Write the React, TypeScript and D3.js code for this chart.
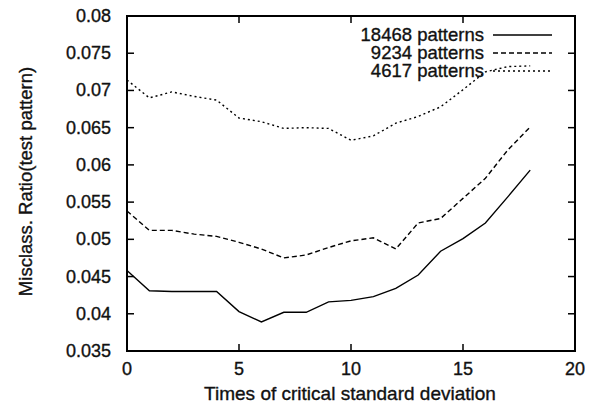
import { useEffect, useRef } from 'react';
import * as d3 from 'd3';

const xs = [0, 1, 2, 3, 4, 5, 6, 7, 8, 9, 10, 11, 12, 13, 14, 15, 16, 17, 18];
const p18468 = [0.0458, 0.0431, 0.043, 0.043, 0.043, 0.0403, 0.0389, 0.0402, 0.0402, 0.0416, 0.0418, 0.0423, 0.0434, 0.0452, 0.0484, 0.0501, 0.0522, 0.0557, 0.0593];
const p9234 = [0.0538, 0.0512, 0.0512, 0.0507, 0.0504, 0.0496, 0.0487, 0.0475, 0.0479, 0.0489, 0.0498, 0.0502, 0.0487, 0.0522, 0.0528, 0.0555, 0.0582, 0.062, 0.0651];
const p4617 = [0.0714, 0.069, 0.0698, 0.0692, 0.0687, 0.0663, 0.0658, 0.0649, 0.065, 0.0649, 0.0633, 0.0639, 0.0656, 0.0665, 0.0678, 0.0701, 0.0725, 0.0732, 0.0733];
const seriesNames = ['18468 patterns', '9234 patterns', '4617 patterns'];
const xTicks = [0, 5, 10, 15, 20];
const yTicks = [0.035, 0.04, 0.045, 0.05, 0.055, 0.06, 0.065, 0.07, 0.075, 0.08];

const App = () => {
    const svgRef = useRef<SVGSVGElement>(null);

    useEffect(() => {
        const svg = d3.select(svgRef.current);
        const width = 595;
        const height = 410;
        const margin = { top: 16, right: 20, bottom: 59, left: 127 };
        const font = 'Liberation Sans, Arial, sans-serif';

        svg.selectAll('*').remove();

        const x = d3.scaleLinear().domain([0, 20]).range([margin.left, width - margin.right]);
        const y = d3.scaleLinear().domain([0.035, 0.08]).range([height - margin.bottom, margin.top]);

        const g = svg.append('g');
        const tickLen = 7;

        const label = (sel: any, size: number) => sel
            .style('font-family', font)
            .style('font-size', size + 'px')
            .attr('fill', '#111')
            .attr('stroke', '#111')
            .attr('stroke-width', 0.35);

        // ticks on all four sides, pointing inward
        xTicks.forEach(t => {
            g.append('line').attr('x1', x(t)).attr('x2', x(t))
                .attr('y1', y(0.035)).attr('y2', y(0.035) - tickLen)
                .attr('stroke', '#000').attr('stroke-width', 1.5);
            g.append('line').attr('x1', x(t)).attr('x2', x(t))
                .attr('y1', y(0.08)).attr('y2', y(0.08) + tickLen)
                .attr('stroke', '#000').attr('stroke-width', 1.5);
            label(g.append('text').attr('x', x(t)).attr('y', 375)
                .attr('text-anchor', 'middle'), 18).text(t);
        });
        yTicks.forEach(t => {
            g.append('line').attr('x1', x(0)).attr('x2', x(0) + tickLen)
                .attr('y1', y(t)).attr('y2', y(t))
                .attr('stroke', '#000').attr('stroke-width', 1.5);
            g.append('line').attr('x1', x(20)).attr('x2', x(20) - tickLen)
                .attr('y1', y(t)).attr('y2', y(t))
                .attr('stroke', '#000').attr('stroke-width', 1.5);
            label(g.append('text').attr('x', 111).attr('y', y(t) + 6)
                .attr('text-anchor', 'end'), 18).text(String(+t.toFixed(3)));
        });

        g.append('rect')
            .attr('x', x(0)).attr('y', y(0.08))
            .attr('width', x(20) - x(0)).attr('height', y(0.035) - y(0.08))
            .attr('fill', 'none').attr('stroke', '#000').attr('stroke-width', 2);

        const line = d3.line<number>()
            .x((_, i) => x(xs[i]))
            .y(d => y(d));

        const series = [p18468, p9234, p4617];
        const dashes = ['none', '5,3', '2,3'];

        series.forEach((s, i) => {
            g.append('path').attr('d', line(s)!)
                .attr('fill', 'none').attr('stroke', '#000')
                .attr('stroke-width', 1.4)
                .attr('stroke-dasharray', dashes[i]);
        });

        // legend
        seriesNames.forEach((name, i) => {
            const ly = 35 + i * 18;
            label(g.append('text').attr('x', 484).attr('y', ly + 6)
                .attr('text-anchor', 'end'), 18.5).text(name);
            g.append('line').attr('x1', 493).attr('x2', 552)
                .attr('y1', ly).attr('y2', ly)
                .attr('stroke', '#000').attr('stroke-width', 1.4)
                .attr('stroke-dasharray', dashes[i]);
        });

        label(g.append('text').attr('x', 350).attr('y', 400)
            .attr('text-anchor', 'middle'), 19).text('Times of critical standard deviation');

        label(g.append('text')
            .attr('transform', `translate(32,${(y(0.035) + y(0.08)) / 2 - 2}) rotate(-90)`)
            .attr('text-anchor', 'middle'), 18.5).text('Misclass. Ratio(test pattern)');
    }, []);

    return (
        <svg ref={svgRef} width="595" height="410"
            style={{ position: 'absolute', left: 0, top: 0, background: '#fff' }}></svg>
    );
};

export default App;
